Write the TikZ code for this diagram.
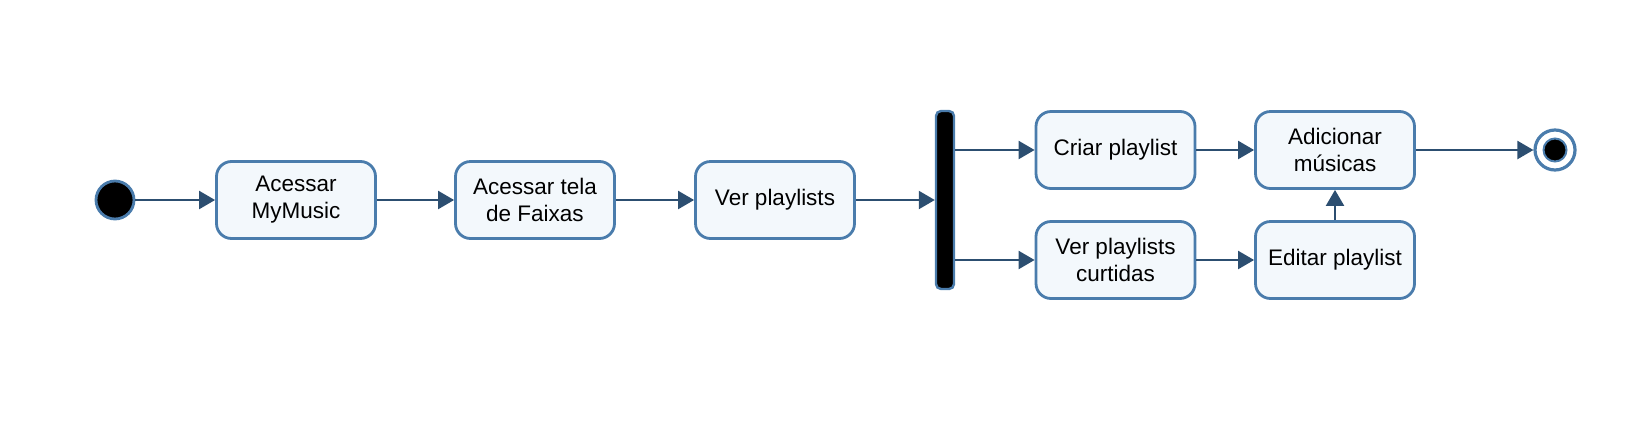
\documentclass[tikz,border=0pt]{standalone}
\usepackage{fontspec}
\setmainfont{Liberation Sans}
\usetikzlibrary{arrows.meta}
\definecolor{bordc}{RGB}{74,124,172}
\definecolor{fillc}{RGB}{243,248,252}
\definecolor{arrc}{RGB}{44,78,112}
\tikzset{
  act/.style={draw=bordc, fill=fillc, line width=2.8pt, rounded corners=15pt,
    minimum width=159pt, minimum height=77pt, align=center,
    font=\fontsize{22.5}{27}\selectfont, inner sep=2pt},
  conn/.style={draw=arrc, line width=2.2pt, -{Triangle[length=16pt,width=18pt]}},
  startnode/.style={circle, draw=bordc, fill=black, line width=2.8pt, minimum size=38pt, inner sep=0pt},
  forkbar/.style={draw=bordc, fill=black, line width=2.4pt, rounded corners=5pt, minimum width=18pt, minimum height=178pt, inner sep=0pt},
  endring/.style={circle, draw=bordc, fill=white, line width=3.2pt, minimum size=40pt, inner sep=0pt},
  enddot/.style={circle, draw=bordc, fill=black, line width=2pt, minimum size=23pt, inner sep=0pt},
}
\begin{document}
\begin{tikzpicture}[x=1pt,y=-1pt]
\useasboundingbox (0,0) rectangle (1643,429);
\node[startnode] (start) at (115,200) {};
\node[act] (b1) at (296,200) {Acessar\\MyMusic};
\node[act] (b2) at (535,200) {Acessar tela\\de Faixas};
\node[act] (b3) at (775,200) {Ver playlists};
\node[forkbar] (bar) at (945,200) {};
\node[act] (criar) at (1115.5,150) {Criar playlist};
\node[act] (ver) at (1115.5,260) {Ver playlists\\curtidas};
\node[act] (adic) at (1335,150) {Adicionar\\músicas};
\node[act] (edit) at (1335,260) {Editar playlist};
\node[endring] (end) at (1555,150) {};
\node[enddot] (endin) at (end.center) {};
\draw[conn] (start) -- (b1);
\draw[conn] (b1) -- (b2);
\draw[conn] (b2) -- (b3);
\draw[conn] (b3) -- (bar);
\draw[conn] (bar.east |- criar.west) -- (criar.west);
\draw[conn] (bar.east |- ver.west) -- (ver.west);
\draw[conn] (criar) -- (adic);
\draw[conn] (ver) -- (edit);
\draw[conn] (edit) -- (adic);
\draw[conn] (adic) -- (end);
\end{tikzpicture}
\end{document}
